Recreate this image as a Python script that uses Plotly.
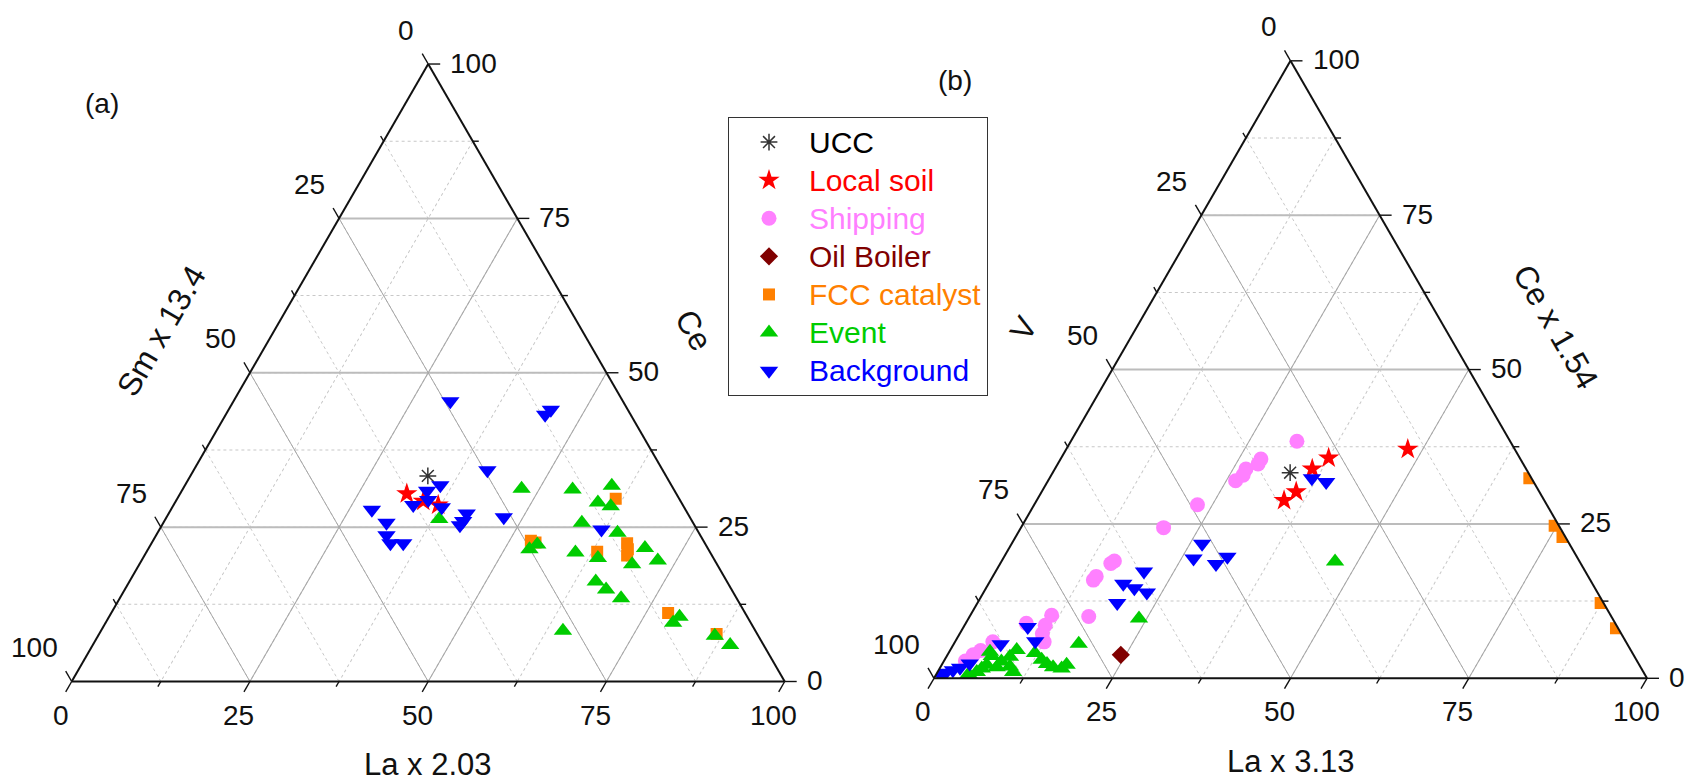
import math
import plotly.graph_objects as go

W, H = 1686, 783
FONT = "Liberation Sans, Arial, sans-serif"

# Panel (a): triples are (Ce, Sm x 13.4, La x 2.03) in percent
a_ucc = [(33.3, 33.4, 33.3)]
a_soil = [(30.4, 37.8, 31.8), (29.2, 36.1, 34.7), (28.6, 34.3, 37.1)]
a_fcc = [(29.6, 8.9, 61.5), (22.8, 24.2, 53.0), (22.5, 23.7, 53.8), (21.0, 15.8, 63.2),
         (22.4, 10.9, 66.7), (21.4, 11.3, 67.3), (20.4, 11.9, 67.7), (11.1, 10.8, 78.1),
         (7.7, 5.7, 86.6)]
a_event = [(26.3, 35.3, 38.4), (31.2, 21.3, 47.5), (31.1, 14.2, 54.7), (31.7, 8.4, 59.9),
           (29.0, 11.7, 59.3), (28.4, 10.2, 61.4), (25.7, 15.6, 58.7), (24.1, 11.4, 64.5),
           (22.2, 23.6, 54.2), (21.4, 25.1, 53.5), (20.9, 18.9, 60.2), (20.0, 16.2, 63.8),
           (21.6, 8.8, 69.6), (19.6, 8.0, 72.4), (19.0, 11.9, 69.1), (16.2, 18.4, 65.4),
           (14.9, 17.6, 67.5), (13.5, 16.2, 70.3), (8.2, 27.0, 64.8), (10.5, 9.5, 80.0),
           (9.5, 10.9, 79.6), (7.4, 6.1, 86.5), (5.9, 4.7, 89.4)]
a_background = [(45.4, 24.2, 30.4), (43.2, 12.0, 44.8), (44.0, 10.8, 45.2), (34.2, 24.6, 41.2),
                (31.8, 32.4, 35.8), (30.9, 34.7, 34.4), (29.4, 35.3, 35.3), (28.6, 37.8, 33.6),
                (28.2, 34.0, 37.8), (27.8, 44.0, 28.2), (25.7, 43.0, 31.3), (23.7, 44.0, 32.3),
                (22.4, 44.1, 33.5), (22.4, 42.3, 35.3), (27.2, 31.0, 41.8), (26.0, 32.1, 41.9),
                (25.3, 32.9, 41.8), (26.6, 26.1, 47.3), (24.6, 13.4, 62.0)]

# Panel (b): triples are (Ce x 1.54, V, La x 3.13) in percent
b_ucc = [(33.3, 33.4, 33.3)]
b_soil = [(37.1, 15.0, 47.9), (35.7, 26.8, 37.5), (33.9, 30.0, 36.1), (30.2, 34.1, 35.7),
          (28.8, 36.5, 34.7)]
b_shipping = [(38.4, 29.9, 31.7), (35.5, 36.4, 28.1), (34.7, 37.2, 28.1), (33.9, 39.3, 26.8),
              (32.9, 40.2, 26.9), (32.0, 41.7, 26.3), (28.1, 49.0, 22.9), (24.4, 55.6, 20.0),
              (19.0, 65.2, 15.8), (18.6, 65.9, 15.5), (16.5, 69.0, 14.5), (15.9, 69.7, 14.4),
              (10.0, 73.3, 16.7), (10.2, 78.4, 11.4), (8.6, 80.1, 11.3), (7.2, 81.2, 11.6),
              (5.9, 81.6, 12.5), (8.9, 82.6, 8.5), (5.9, 88.8, 5.3), (4.5, 91.2, 4.3),
              (3.8, 92.6, 3.6), (2.8, 94.2, 3.0)]
b_boiler = [(3.8, 71.9, 24.3)]
b_fcc = [(32.4, 0.3, 67.3), (24.7, 0.6, 74.7), (22.9, 0.4, 76.7), (12.2, 0.4, 87.4),
         (8.1, 0.3, 91.6)]
b_event = [(18.9, 34.3, 46.8), (9.7, 66.4, 23.9), (5.6, 76.9, 17.5), (2.2, 80.3, 17.5),
           (1.6, 81.3, 17.1), (1.8, 82.4, 15.8), (2.3, 83.0, 14.7), (3.0, 83.4, 13.6),
           (4.1, 83.8, 12.1), (4.6, 86.1, 9.3), (3.5, 87.6, 8.9), (1.9, 88.4, 9.7),
           (1.0, 88.4, 10.6), (2.7, 89.2, 8.1), (3.6, 90.1, 6.3), (2.2, 91.5, 6.3),
           (1.6, 92.5, 5.9), (1.8, 90.3, 7.9), (1.0, 93.5, 5.5), (0.7, 94.8, 4.5),
           (4.3, 90.0, 5.7)]
b_background = [(32.4, 30.8, 36.8), (31.8, 29.1, 39.1), (21.8, 51.5, 26.7), (19.4, 53.9, 26.7),
                (18.5, 51.2, 30.3), (19.7, 49.0, 31.3), (17.3, 61.9, 20.8), (15.3, 65.8, 18.9),
                (14.6, 64.6, 20.8), (13.9, 63.2, 22.9), (12.2, 68.2, 19.6), (8.3, 82.7, 9.0),
                (6.0, 82.8, 11.2), (5.5, 87.9, 6.6), (2.4, 93.8, 3.8), (1.7, 95.5, 2.8),
                (1.3, 96.7, 2.0), (0.9, 97.9, 1.2), (0.5, 98.8, 0.7)]

tick_values = [0, 12.5, 25, 37.5, 50, 62.5, 75, 87.5, 100]
major_ticks = [0, 25, 50, 75, 100]

styles = {
    "UCC": dict(color="#333333", symbol="asterisk-open", size=14, text="#000000"),
    "Local soil": dict(color="#FF0000", symbol="star", size=16, text="#FF0000"),
    "Shipping": dict(color="#FF80FF", symbol="circle", size=15, text="#FF7FFF"),
    "Oil Boiler": dict(color="#800000", symbol="diamond", size=14, text="#800000"),
    "FCC catalyst": dict(color="#FF8000", symbol="square", size=12, text="#FF8000"),
    "Event": dict(color="#00CC00", symbol="triangle-up", size=16, text="#00CC00"),
    "Background": dict(color="#0000FF", symbol="triangle-down", size=16, text="#0000FF"),
}

panels = [
    dict(left=71.7, right=784.7, bottom=681.5, back="ternary", front="ternary2", legend=False,
         series=[("UCC", a_ucc), ("Local soil", a_soil), ("FCC catalyst", a_fcc),
                 ("Event", a_event), ("Background", a_background)],
         titles=("Ce", "Sm x 13.4", "La x 2.03"), tag="(a)", tag_xy=(102, 104)),
    dict(left=934.0, right=1647.0, bottom=678.3, back="ternary3", front="ternary4", legend=True,
         series=[("UCC", b_ucc), ("Local soil", b_soil), ("Shipping", b_shipping),
                 ("Oil Boiler", b_boiler), ("FCC catalyst", b_fcc), ("Event", b_event),
                 ("Background", b_background)],
         titles=("Ce x 1.54", "V", "La x 3.13"), tag="(b)", tag_xy=(955, 80)),
]

SQ3 = math.sqrt(3) / 2


def px(p, a, c):
    """Pixel position of a ternary point (a = top, c = bottom-right) in a panel."""
    side = p["right"] - p["left"]
    x = p["left"] + side * (c + a / 2) / 100
    y = p["bottom"] - side * SQ3 * a / 100
    return x, y


def paper(x, y):
    return x / W, 1 - y / H


fig = go.Figure()

for p in panels:
    # empty trace so the dotted background grid subplot is drawn
    fig.add_trace(go.Scatterternary(a=[], b=[], c=[], subplot=p["back"], showlegend=False,
                                    hoverinfo="skip"))
for p in panels:
    for name, pts in p["series"]:
        st = styles[name]
        open_sym = st["symbol"].endswith("open")
        fig.add_trace(go.Scatterternary(
            a=[v[0] for v in pts], b=[v[1] for v in pts], c=[v[2] for v in pts],
            mode="markers", subplot=p["front"],
            name=f'<span style="color:{st["text"]};font-size:30px">{name}</span>',
            legendgroup=name, showlegend=p["legend"],
            marker=dict(symbol=st["symbol"], size=st["size"], color=st["color"],
                        line=dict(width=1.5 if open_sym else 0, color=st["color"])),
        ))


def back_axis():
    return dict(tickmode="linear", tick0=0, dtick=12.5, showgrid=True, gridcolor="#c8c8c8",
                gridwidth=1, griddash="3px,3px", showline=False, ticks="",
                showticklabels=False, title=dict(text=""))


def front_axis(grid_color, grid_width):
    return dict(tickmode="linear", tick0=0, dtick=25, showgrid=True, gridcolor=grid_color,
                gridwidth=grid_width, showline=True, linecolor="#111111", linewidth=2,
                ticks="", showticklabels=False, title=dict(text=""))


layout_extra = {}
for p in panels:
    side = p["right"] - p["left"]
    top = p["bottom"] - side * SQ3
    dom = dict(x=[p["left"] / W, p["right"] / W], y=[1 - p["bottom"] / H, 1 - top / H])
    layout_extra[p["back"]] = dict(domain=dom, sum=100, bgcolor="white",
                                   aaxis=back_axis(), baxis=back_axis(), caxis=back_axis())
    layout_extra[p["front"]] = dict(domain=dom, sum=100, bgcolor="rgba(0,0,0,0)",
                                    aaxis=front_axis("#bcbcbc", 1.5),
                                    baxis=front_axis("#a6a6a6", 1),
                                    caxis=front_axis("#a6a6a6", 1))

shapes = []
annotations = []


def tick(x, y, dx, dy, length):
    x0, y0 = paper(x, y)
    x1, y1 = paper(x + dx * length, y + dy * length)
    shapes.append(dict(type="line", xref="paper", yref="paper", x0=x0, y0=y0, x1=x1, y1=y1,
                       line=dict(color="#111111", width=1.4)))


def label(text, x, y, xanchor, size=28, angle=0):
    xp, yp = paper(x, y)
    annotations.append(dict(text=text, x=xp, y=yp, xref="paper", yref="paper",
                            xanchor=xanchor, yanchor="middle", showarrow=False,
                            textangle=angle, font=dict(family=FONT, size=size, color="#111111")))


for p in panels:
    for v in tick_values:
        major = v in major_ticks
        length = 12 if major else 6
        txt = f"{v:g}"
        # left edge: bottom-left component
        x, y = px(p, 100 - v, 0)
        tick(x, y, -0.5, -SQ3, length)
        if major:
            label(txt, x - 12, y - 34, "right")
        # bottom edge: bottom-right component
        x, y = px(p, 0, v)
        tick(x, y, -0.5, SQ3, length)
        if major:
            label(txt, x - 11, y + 33.5, "center")
        # right edge: top component
        x, y = px(p, v, 100 - v)
        tick(x, y, 1, 0, length)
        if major:
            label(txt, x + 20, y - 1, "left")

    top_title, left_title, bottom_title = p["titles"]
    lx, ly = px(p, 50, 0)
    label(left_title, lx - 88.8, ly - 42, "center", size=32, angle=-60)
    rx, ry = px(p, 50, 50)
    label(top_title, rx + 87, ry - 42.4, "center", size=32, angle=60)
    bx, by = px(p, 0, 50)
    label(bottom_title, bx, by + 83, "center", size=31)
    label(p["tag"], p["tag_xy"][0], p["tag_xy"][1], "center", size=28)

fig.update_layout(
    width=W, height=H, margin=dict(l=0, r=0, t=0, b=0),
    paper_bgcolor="white", plot_bgcolor="white",
    font=dict(family=FONT, size=28, color="#111111"),
    shapes=shapes, annotations=annotations,
    legend=dict(x=728 / W, y=1 - 117 / H, xanchor="left", yanchor="top",
                bgcolor="white", bordercolor="#333333", borderwidth=1,
                font=dict(family=FONT, size=27, color="#000000"),
                itemwidth=70, tracegroupgap=0, traceorder="normal"),
    showlegend=True,
    **layout_extra,
)

fig.write_html("out.html")
